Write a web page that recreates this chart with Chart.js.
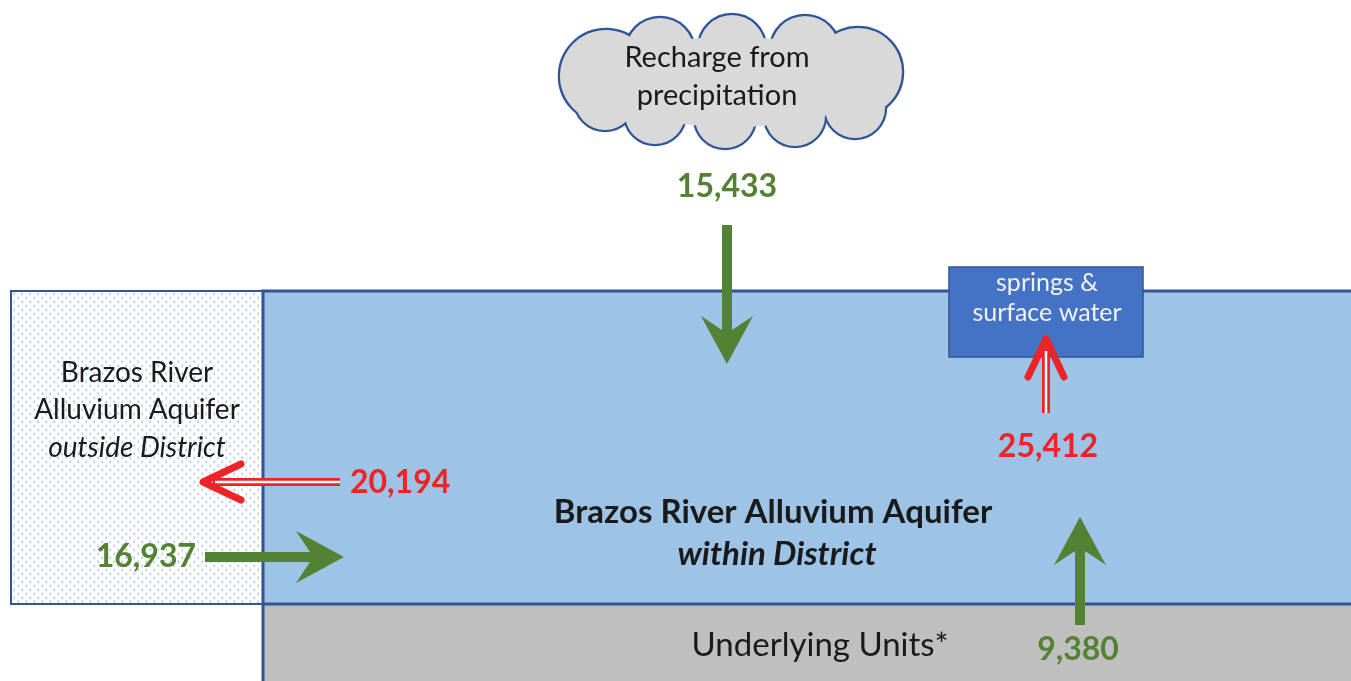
<!DOCTYPE html>
<html>
<head>
<meta charset="utf-8">
<script src="https://cdn.jsdelivr.net/npm/chart.js@4.4.0/dist/chart.umd.min.js"></script>
<style>
  html, body { margin: 0; padding: 0; background: #fff; }
  #wrap { width: 1351px; height: 681px; position: relative; }
</style>
</head>
<body>
<div id="wrap"><canvas id="budget"></canvas></div>
<script>
// Water budget of the Brazos River Alluvium Aquifer (acre-feet per year)
const flowNames = ['Recharge from precipitation', 'Outflow to aquifer outside District', 'Inflow from aquifer outside District', 'Discharge to springs & surface water', 'Inflow from Underlying Units'];
const flowValues = [15433, 20194, 16937, 25412, 9380];
const flowDirection = ['in', 'out', 'in', 'out', 'in'];

const cloudLines = ['Recharge from', 'precipitation'];
const outsideLines = ['Brazos River', 'Alluvium Aquifer', 'outside District'];
const withinLines = ['Brazos River Alluvium Aquifer', 'within District'];
const springsLines = ['springs &', 'surface water'];
const underlyingLabel = 'Underlying Units*';

// diagram layout, in axis units (the hidden axes run 0..1351 and 0..681)
const flowLayout = [
  { kind: 'solid', from: [727, 225], to: [727, 364], label: [727, 187], align: 'center' },
  { kind: 'open',  from: [340, 482], to: [203, 482], label: [350, 483], align: 'left' },
  { kind: 'solid', from: [205, 557], to: [344, 557], label: [196, 557], align: 'right' },
  { kind: 'open',  from: [1046, 413], to: [1046, 339], label: [1048, 447], align: 'center' },
  { kind: 'solid', from: [1080, 625], to: [1080, 517], label: [1078, 650], align: 'center' }
];
const cloudBumps = [
  [606, 76, 46], [660, 52, 34], [732, 48, 33], [805, 50, 34], [858, 72, 44],
  [855, 108, 30], [795, 116, 30], [725, 118, 30], [655, 114, 30], [605, 100, 30]
];

const GREEN = '#548235', RED = '#ec2427', DARK = '#2f5597';
const FONT = 'Lato, "Open Sans", sans-serif';

function makePattern(ctx) {
  const c = document.createElement('canvas');
  c.width = 8; c.height = 8;
  const g = c.getContext('2d');
  g.fillStyle = '#fff'; g.fillRect(0, 0, 8, 8);
  g.strokeStyle = '#9cb6e0'; g.lineWidth = 1;
  g.beginPath();
  g.moveTo(3, 0.5); g.lineTo(1.5, 1.8); g.lineTo(3, 3);
  g.moveTo(7, 4.5); g.lineTo(5.5, 5.8); g.lineTo(7, 7);
  g.stroke();
  return ctx.createPattern(c, 'repeat');
}

const diagram = {
  id: 'diagram',
  afterDraw(chart) {
    const ctx = chart.ctx;
    const xs = chart.scales.x, ys = chart.scales.y;
    const px = v => xs.getPixelForValue(v);
    const py = v => ys.getPixelForValue(v);
    const rect = (x0, y0, x1, y1) => [px(x0), py(y0), px(x1) - px(x0), py(y1) - py(y0)];

    ctx.save();
    // outside-district box
    ctx.fillStyle = makePattern(ctx);
    ctx.fillRect(...rect(11, 291, 263, 604));
    ctx.strokeStyle = DARK; ctx.lineWidth = 2;
    ctx.strokeRect(...rect(11, 291, 263, 604));

    // main aquifer and underlying units
    ctx.fillStyle = '#9dc3e6';
    ctx.fillRect(...rect(263, 291, 1351, 604));
    ctx.fillStyle = '#bfbfbf';
    ctx.fillRect(...rect(263, 604, 1351, 681));
    ctx.strokeStyle = DARK; ctx.lineWidth = 3;
    ctx.beginPath();
    ctx.moveTo(px(1351), py(291)); ctx.lineTo(px(263), py(291));
    ctx.lineTo(px(263), py(604)); ctx.lineTo(px(1351), py(604));
    ctx.moveTo(px(263), py(604)); ctx.lineTo(px(263), py(681));
    ctx.stroke();

    // springs box
    ctx.fillStyle = '#4472c4';
    ctx.fillRect(...rect(949, 267, 1143, 357));
    ctx.strokeStyle = DARK; ctx.lineWidth = 1.5;
    ctx.strokeRect(...rect(949, 267, 1143, 357));

    // cloud: stroke every bump, then fill over to leave only the outline
    ctx.strokeStyle = DARK; ctx.lineWidth = 4.5;
    cloudBumps.forEach(([cx, cy, r]) => {
      ctx.beginPath(); ctx.arc(px(cx), py(cy), r, 0, Math.PI * 2); ctx.stroke();
    });
    ctx.fillStyle = '#d9d9d9';
    cloudBumps.forEach(([cx, cy, r]) => {
      ctx.beginPath(); ctx.arc(px(cx), py(cy), r, 0, Math.PI * 2); ctx.fill();
    });
    ctx.beginPath(); ctx.ellipse(px(732), py(82), 140, 45, 0, 0, Math.PI * 2); ctx.fill();

    // flow arrows
    flowLayout.forEach((f, i) => {
      const col = flowDirection[i] === 'in' ? GREEN : RED;
      const x0 = px(f.from[0]), y0 = py(f.from[1]);
      const x1 = px(f.to[0]), y1 = py(f.to[1]);
      const L = Math.hypot(x1 - x0, y1 - y0);
      const ang = Math.atan2(y1 - y0, x1 - x0);
      ctx.save();
      ctx.translate(x0, y0); ctx.rotate(ang);
      if (f.kind === 'solid') {
        const w = 10, hl = 48, hw = 26, notch = 14;
        ctx.fillStyle = col;
        ctx.beginPath();
        ctx.moveTo(0, -w / 2);
        ctx.lineTo(L - hl + notch, -w / 2);
        ctx.lineTo(L - hl, -hw);
        ctx.lineTo(L, 0);
        ctx.lineTo(L - hl, hw);
        ctx.lineTo(L - hl + notch, w / 2);
        ctx.lineTo(0, w / 2);
        ctx.closePath();
        ctx.fill();
      } else {
        ctx.strokeStyle = col; ctx.lineCap = 'butt';
        ctx.lineWidth = 8;
        ctx.beginPath(); ctx.moveTo(0, 0); ctx.lineTo(L - 10, 0); ctx.stroke();
        ctx.strokeStyle = '#fff'; ctx.lineWidth = 2.5;
        ctx.beginPath(); ctx.moveTo(0, 0); ctx.lineTo(L - 12, 0); ctx.stroke();
        ctx.strokeStyle = col; ctx.lineWidth = 7;
        ctx.lineCap = 'round'; ctx.lineJoin = 'round';
        ctx.beginPath();
        ctx.moveTo(L - 38, -18); ctx.lineTo(L, 0); ctx.lineTo(L - 38, 18);
        ctx.stroke();
      }
      ctx.restore();

      ctx.fillStyle = col;
      ctx.font = 'bold 32px ' + FONT;
      ctx.textAlign = f.align; ctx.textBaseline = 'middle';
      ctx.fillText(flowValues[i].toLocaleString('en-US'), px(f.label[0]), py(f.label[1]));
    });

    // texts
    ctx.textAlign = 'center'; ctx.textBaseline = 'middle';
    ctx.fillStyle = '#1a1a1a';
    ctx.font = '29px ' + FONT;
    cloudLines.forEach((t, k) => ctx.fillText(t, px(717), py(58 + k * 38)));

    ctx.font = '28px ' + FONT;
    ctx.fillText(outsideLines[0], px(137), py(373));
    ctx.fillText(outsideLines[1], px(137), py(410));
    ctx.font = 'italic 28px ' + FONT;
    ctx.fillText(outsideLines[2], px(137), py(448));

    ctx.font = 'bold 33px ' + FONT;
    ctx.fillText(withinLines[0], px(773), py(512));
    ctx.font = 'italic bold 33px ' + FONT;
    ctx.fillText(withinLines[1], px(777), py(554));

    ctx.font = '33px ' + FONT;
    ctx.fillText(underlyingLabel, px(820), py(645));

    ctx.fillStyle = '#f2f2f2';
    ctx.font = '25px ' + FONT;
    springsLines.forEach((t, k) => ctx.fillText(t, px(1047), py(283 + k * 30)));
    ctx.restore();
  }
};

new Chart(document.getElementById('budget'), {
  type: 'scatter',
  data: { datasets: [{ label: 'flows', data: [], pointRadius: 0 }] },
  options: {
    responsive: true,
    maintainAspectRatio: false,
    animation: false,
    layout: { padding: 0 },
    plugins: { legend: { display: false }, tooltip: { enabled: false } },
    scales: {
      x: { type: 'linear', min: 0, max: 1351, display: false },
      y: { type: 'linear', min: 0, max: 681, reverse: true, display: false }
    }
  },
  plugins: [diagram]
});
</script>
</body>
</html>
